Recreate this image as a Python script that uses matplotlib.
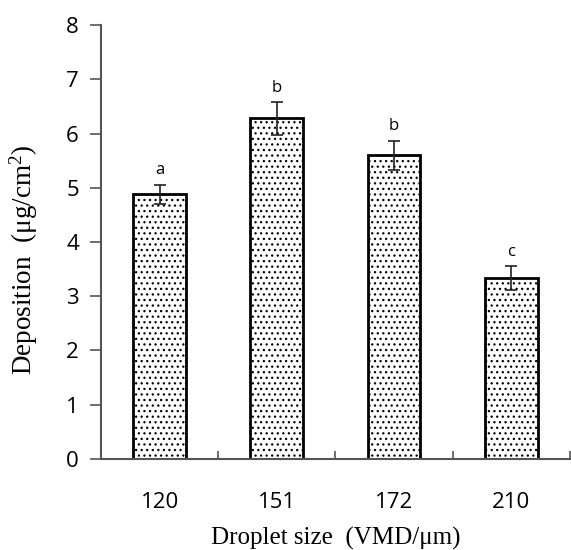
import matplotlib
matplotlib.use("Agg")
import matplotlib.pyplot as plt
import numpy as np

plt.rcParams['hatch.linewidth'] = 0.9
plt.rcParams['hatch.color'] = '#555555'
plt.rcParams['mathtext.fontset'] = 'custom'
plt.rcParams['mathtext.rm'] = 'Liberation Serif'
plt.rcParams['mathtext.it'] = 'Liberation Serif:italic'

sizes = ['120', '151', '172', '210']
deposition = [4.88, 6.28, 5.60, 3.33]
err = [0.18, 0.30, 0.27, 0.22]
letters = ['a', 'b', 'b', 'c']

fig = plt.figure(figsize=(5.71, 5.5), dpi=100)
ax = fig.add_axes([0.177, 0.1655, 0.821, 0.789])

x = np.arange(len(sizes))
ax.bar(x, deposition, width=0.45, color='white', edgecolor='black',
       linewidth=2, hatch='...', zorder=2)
ax.errorbar(x, deposition, yerr=err, fmt='none', ecolor='#222222',
            elinewidth=1.2, capsize=4, capthick=1.2, zorder=3)
for xi, v, e, t in zip(x, deposition, err, letters):
    ax.text(xi, v + e + 0.12, t, ha='center', va='bottom',
            fontsize=12, family='Open Sans')

ax.set_xlim(-0.5, len(sizes) - 0.5)
ax.set_ylim(0, 8)
ax.set_yticks(range(0, 9))
ax.set_xticks(x)
ax.set_xticklabels(sizes)
ax.set_xticks(np.arange(-0.5, len(sizes)), minor=True)
ax.tick_params(axis='x', which='major', length=0, pad=24, labelsize=16)
ax.tick_params(axis='x', which='minor', direction='in', length=6,
               color='#555555', width=1.2)
ax.tick_params(axis='y', direction='out', length=8, color='#555555',
               width=1.2, labelsize=16, pad=8)
for lab in ax.get_xticklabels() + ax.get_yticklabels():
    lab.set_family('Open Sans')

for s in ['top', 'right']:
    ax.spines[s].set_visible(False)
for s in ['left', 'bottom']:
    ax.spines[s].set_color('#555555')
    ax.spines[s].set_linewidth(1.5)

ax.set_xlabel('Droplet size  (VMD/μm)', family='Liberation Serif',
              fontsize=18, labelpad=10)
ax.set_ylabel('Deposition  (μg/cm$^{2}$)', family='Liberation Serif',
              fontsize=19.5)
ax.yaxis.set_label_coords(-0.13, 0.46)

fig.savefig('out.png', dpi=100)
